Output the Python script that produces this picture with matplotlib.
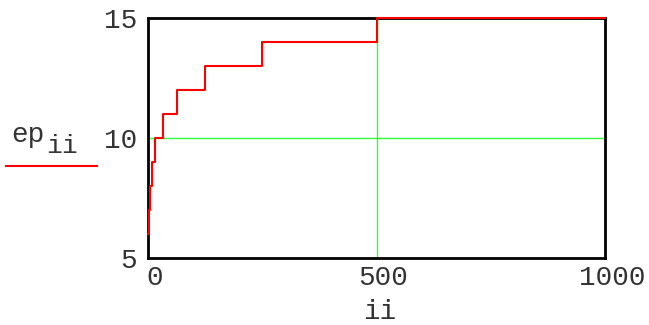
#!/usr/bin/env python3
# Step plot of ep against ii, drawn in the Mathcad look

import matplotlib.pyplot as plt
import matplotlib.transforms as mtransforms

# points where ep steps up, and the value it takes from there on
ii = [0, 2, 4, 8, 16, 32, 63, 125, 250, 500, 1000]
ep = [6, 7, 8, 9, 10, 11, 12, 13, 14, 15, 15]

xticks = [0, 500, 1000]
yticks = [5, 10, 15]

mono = 'Liberation Mono'
txt = '#333333'

fig = plt.figure(figsize=(6.49, 3.25), dpi=100)
ax = fig.add_axes([148 / 649, 1 - 258 / 325, 457 / 649, 240 / 325])

# grid lines at the middle ticks only, as Mathcad draws them
ax.axvline(500, color='#33ff33', lw=1, zorder=1)
ax.axhline(10, color='#33ff33', lw=1, zorder=1)

ax.plot(ii, ep, drawstyle='steps-post', color='red', lw=1.5, zorder=5, clip_on=False)

ax.set_xlim(0, 1000)
ax.set_ylim(5, 15)
ax.set_xticks(xticks)
ax.set_yticks(yticks)
ax.set_xticklabels([str(t) for t in xticks], fontfamily=mono, fontsize=20)
ax.set_yticklabels([str(t) for t in yticks], fontfamily=mono, fontsize=20)
ax.tick_params(length=0, colors=txt)
ax.tick_params(axis='x', pad=5)
ax.tick_params(axis='y', pad=8)

# Mathcad puts the x numbers a little to the right of the tick
shift = mtransforms.ScaledTranslation(7 / 100, 0, fig.dpi_scale_trans)
for lab in ax.get_xticklabels():
    lab.set_transform(lab.get_transform() + shift)

for s in ax.spines.values():
    s.set_linewidth(2)
    s.set_color('black')
    s.set_zorder(4)

fig.text(380 / 649, 1 - 319 / 325, 'ii', fontfamily=mono, fontsize=20, color=txt,
         ha='center', va='baseline')

# y label: "ep" with subscript "ii" and a red legend line under it
fig.text(11 / 649, 1 - 142 / 325, 'ep', fontfamily=mono, fontsize=20, color=txt,
         va='baseline')
fig.text(46 / 649, 1 - 153 / 325, 'ii', fontfamily=mono, fontsize=19, color=txt,
         va='baseline')
fig.add_artist(plt.Line2D([6 / 649, 97 / 649], [1 - 166 / 325, 1 - 166 / 325],
                          color='red', lw=1.5))

plt.savefig('out.png', dpi=100)
